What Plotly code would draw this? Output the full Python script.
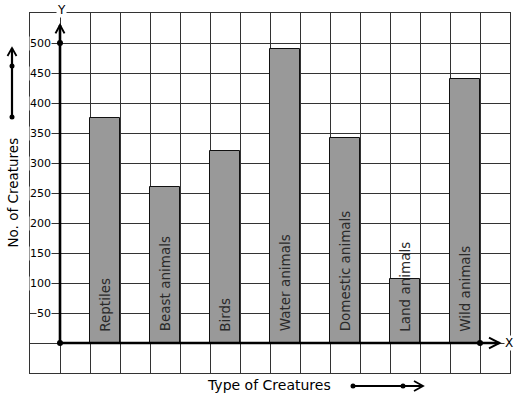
import plotly.graph_objects as go

categories = ["Reptiles", "Beast animals", "Birds", "Water animals",
              "Domestic animals", "Land animals", "Wild animals"]
values = [375, 260, 320, 490, 342, 107, 440]
x_positions = [1.5, 3.5, 5.5, 7.5, 9.5, 11.5, 13.5]
y_tick_values = [50, 100, 150, 200, 250, 300, 350, 400, 450, 500]
y_tick_labels = [str(v) for v in y_tick_values]

W, H = 517, 399
ML, MR, MT, MB = 30, 7, 13, 26
PW, PH = W - ML - MR, H - MT - MB
FONT = "DejaVu Sans"


def px(xp):
    return (xp - ML) / PW


def py(yp):
    return (H - MB - yp) / PH


fig = go.Figure()

fig.add_trace(go.Bar(
    x=x_positions, y=values, width=1,
    marker=dict(color="#999999", line=dict(color="#111111", width=1)),
    hoverinfo="skip", showlegend=False,
))

shapes = []
axis_w = 2.6
# Y axis
shapes.append(dict(type="line", xref="x", yref="y", x0=0, y0=0, x1=0, y1=530,
                   line=dict(color="black", width=axis_w)))
shapes.append(dict(type="path", xref="x", yref="y",
                   path="M -0.15,516 L 0,530 L 0.15,516",
                   line=dict(color="black", width=2)))
# X axis
shapes.append(dict(type="line", xref="x", yref="y", x0=0, y0=0, x1=14.65, y1=0,
                   line=dict(color="black", width=axis_w)))
shapes.append(dict(type="path", xref="x", yref="y",
                   path="M 14.3,9 L 14.65,0 L 14.3,-9",
                   line=dict(color="black", width=2)))

# side arrow (left)
shapes.append(dict(type="line", xref="paper", yref="paper",
                   x0=px(12), y0=py(117), x1=px(12), y1=py(48),
                   line=dict(color="black", width=2.2)))
shapes.append(dict(type="path", xref="paper", yref="paper",
                   path=f"M {px(7.5)},{py(56)} L {px(12)},{py(48)} L {px(16.5)},{py(56)}",
                   line=dict(color="black", width=1.8)))
# bottom arrow
shapes.append(dict(type="line", xref="paper", yref="paper",
                   x0=px(353), y0=py(386), x1=px(423), y1=py(386),
                   line=dict(color="black", width=2.2)))
shapes.append(dict(type="path", xref="paper", yref="paper",
                   path=f"M {px(414)},{py(381)} L {px(423)},{py(386)} L {px(414)},{py(391)}",
                   line=dict(color="black", width=1.8)))


def dot_paper(xp, yp, r=2.5):
    return dict(type="circle", xref="paper", yref="paper",
                x0=px(xp - r), x1=px(xp + r), y0=py(yp + r), y1=py(yp - r),
                fillcolor="black", line=dict(color="black", width=0))


shapes.append(dot_paper(12, 117))
shapes.append(dot_paper(12, 66))
shapes.append(dot_paper(353, 386))
shapes.append(dot_paper(403, 386))

# dots on axes (data coords via scatter)
fig.add_trace(go.Scatter(x=[0, 0, 14], y=[0, 500, 0], mode="markers",
                         marker=dict(color="black", size=6),
                         hoverinfo="skip", showlegend=False, cliponaxis=False))

annotations = []
for v, t in zip(y_tick_values, y_tick_labels):
    annotations.append(dict(x=-0.26, y=v, xref="x", yref="y", text=t,
                            showarrow=False, xanchor="right", yanchor="middle",
                            bgcolor="white", borderpad=0,
                            font=dict(family=FONT, size=11, color="black")))

for xc, name in zip(x_positions, categories):
    annotations.append(dict(x=xc, y=17, xref="x", yref="y", text=name,
                            showarrow=False, textangle=-90,
                            xanchor="center", yanchor="bottom", borderpad=0,
                            font=dict(family=FONT, size=13.5, color="#2a2a2a")))

annotations.append(dict(x=px(61), y=py(10), xref="paper", yref="paper", text="Y",
                        showarrow=False, bgcolor="white", borderpad=0,
                        xanchor="center", yanchor="middle",
                        font=dict(family=FONT, size=12, color="black")))
annotations.append(dict(x=14.95, y=0, xref="x", yref="y", text="X",
                        showarrow=False, bgcolor="white", borderpad=0,
                        xanchor="center", yanchor="middle",
                        font=dict(family=FONT, size=12, color="black")))
annotations.append(dict(x=px(12), y=py(192.5), xref="paper", yref="paper",
                        text="No. of Creatures", textangle=-90, showarrow=False,
                        xanchor="center", yanchor="middle",
                        font=dict(family=FONT, size=13.5, color="black")))
annotations.append(dict(x=px(269), y=py(385), xref="paper", yref="paper",
                        text="Type of Creatures", showarrow=False,
                        xanchor="center", yanchor="middle",
                        font=dict(family=FONT, size=14, color="black")))

grid_color = "#333333"
fig.update_layout(
    width=W, height=H,
    margin=dict(l=ML, r=MR, t=MT, b=MB, pad=0),
    paper_bgcolor="white", plot_bgcolor="white",
    shapes=shapes, annotations=annotations,
    xaxis=dict(range=[-1, 15], dtick=1, tick0=0, showgrid=True,
               gridcolor=grid_color, gridwidth=1, showticklabels=False,
               zeroline=False, showline=True, mirror=True,
               linecolor=grid_color, linewidth=1, ticks="", fixedrange=True),
    yaxis=dict(range=[-50, 550], dtick=50, tick0=0, showgrid=True,
               gridcolor=grid_color, gridwidth=1, showticklabels=False,
               zeroline=False, showline=True, mirror=True,
               linecolor=grid_color, linewidth=1, ticks="", fixedrange=True),
    bargap=0,
)

fig.write_html("out.html", config={"displayModeBar": False},
               post_script="document.body.style.margin='0';"
                           "document.body.style.overflow='hidden';")
